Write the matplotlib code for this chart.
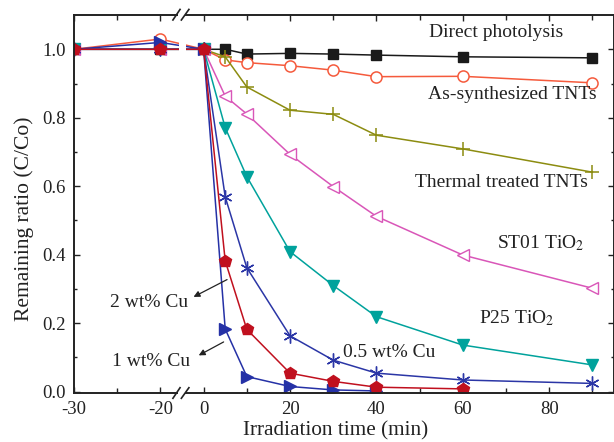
import numpy as np
import matplotlib
matplotlib.use('Agg')
import matplotlib.pyplot as plt
from matplotlib.patches import Rectangle
from matplotlib.lines import Line2D

# temps (min) : -30 et -20 = adsorption dans le noir
t = [-30, -20, 0, 5, 10, 20, 30, 40, 60, 90]
direct = [1.0, 1.0, 1.0, 1.0, 0.986, 0.988, 0.986, 0.983, 0.978, 0.975]
as_syn = [1.0, 1.03, 1.0, 0.969, 0.961, 0.952, 0.939, 0.920, 0.921, 0.902]
thermal = [1.0, 1.0, 1.0, 0.978, 0.890, 0.822, 0.810, 0.749, 0.709, 0.641]
st01 = [1.0, 1.0, 1.0, 0.863, 0.811, 0.693, 0.599, 0.512, 0.399, 0.302]
p25 = [1.0, 1.0, 1.0, 0.771, 0.628, 0.409, 0.310, 0.219, 0.136, 0.078]
cu05 = [1.0, 1.0, 1.0, 0.569, 0.362, 0.163, 0.092, 0.054, 0.034, 0.024]
t_cu2 = [-30, -20, 0, 5, 10, 20, 30, 40, 60]
cu2 = [1.0, 1.0, 1.0, 0.382, 0.182, 0.054, 0.030, 0.013, 0.008]
t_cu1 = [-30, -20, 0, 5, 10, 20, 30, 40]
cu1 = [1.0, 1.02, 1.0, 0.183, 0.044, 0.015, 0.005, 0.002]

major_x = [-30, -20, 0, 20, 40, 60, 80]
minor_x = [-25, 10, 30, 50, 70, 90]


# axe x coupé : la partie -30..-20 est dilatée, -20..0 est comprimée
def fwd(x):
    x = np.asarray(x, dtype=float)
    return np.where(x >= 0, x, np.where(x >= -20, x / 2, 2 * (x + 20) - 10))


def inv(p):
    p = np.asarray(p, dtype=float)
    return np.where(p >= 0, p, np.where(p >= -10, 2 * p, (p + 10) / 2 - 20))


plt.rcParams['font.family'] = ['Liberation Serif', 'DejaVu Serif']
plt.rcParams['mathtext.fontset'] = 'stix'

fig = plt.figure(figsize=(6.14, 4.42), dpi=100)
ax = fig.add_axes([74 / 614, 1 - 393 / 442, 1 - 74 / 614, (393 - 14.7) / 442])
ax.set_xscale('function', functions=(fwd, inv))

lw = 1.1
ax.plot(t, direct, color='#1a1a1a', marker='s', ms=7.5, lw=lw)
ax.plot(t, as_syn, color='#f55a3c', marker='o', ms=8, mfc='white', mew=1.1, lw=lw)
ax.plot(t, thermal, color='#8c8c10', marker='+', ms=10, mew=1.1, lw=lw)
ax.plot(t, st01, color='#d956b8', marker='<', ms=9, mfc='white', mew=1.0, lw=lw)
ax.plot(t, p25, color='#00a29c', marker='v', ms=9, lw=lw)
ax.plot(t, cu05, color='#2b36a6', marker=(6, 2, 0), ms=10, mew=1.0, lw=lw)
ax.plot(t_cu1, cu1, color='#2531a6', marker='>', ms=9, lw=lw)
ax.plot(t_cu2, cu2, color='#c0101e', marker='p', ms=9, lw=lw)

ax.set_xlim(-30, 95)
ax.set_ylim(-0.004, 1.101)
ax.set_xticks(major_x)
ax.set_xticklabels([str(v) for v in major_x])
ax.set_xticks(minor_x, minor=True)
ax.set_yticks([0.0, 0.2, 0.4, 0.6, 0.8, 1.0])
ax.set_yticklabels(['0.0', '0.2', '0.4', '0.6', '0.8', '1.0'])
ax.set_yticks([0.1, 0.3, 0.5, 0.7, 0.9], minor=True)
ax.tick_params(which='both', direction='in', top=True, right=True,
               labelsize=13.5, width=1.0, colors='#222222')
ax.tick_params(which='major', length=4, pad=6)
ax.tick_params(which='minor', length=3.5)
ax.tick_params(axis='y', which='minor', length=2.5)
for s in ax.spines.values():
    s.set_linewidth(1.4)
    s.set_color('#222222')

ax.set_xlabel('Irradiation time (min)', fontsize=15.3, labelpad=2,
              color='#222222', x=0.484)
ax.set_ylabel('Remaining ratio (C/Co)', fontsize=15.5, labelpad=6,
              color='#222222', y=0.46)

# coupure de l'axe
ax.add_patch(Rectangle((-11.6, 0.95), 3.3, 0.12, facecolor='white',
                       edgecolor='none', zorder=5))
tr = ax.get_xaxis_transform()
for yb in (0, 1):
    ax.add_patch(Rectangle((-12.0, yb - 0.01), 3.6, 0.02, transform=tr,
                           facecolor='white', edgecolor='none',
                           clip_on=False, zorder=10))
    for x0, x1 in ((-14.2, -10.9), (-10.3, -6.8)):
        ax.add_line(Line2D([x0, x1], [yb - 0.014, yb + 0.014], transform=tr,
                           color='#222222', lw=1.2, clip_on=False, zorder=11))

fs = 14
tc = '#222222'
ax.text(67.7, 1.05, 'Direct photolysis', fontsize=fs, color=tc, ha='center', va='center')
ax.text(71.4, 0.869, 'As-synthesized TNTs', fontsize=fs, color=tc, ha='center', va='center')
ax.text(69, 0.612, 'Thermal treated TNTs', fontsize=fs, color=tc, ha='center', va='center')
ax.text(78, 0.435, 'ST01 TiO$_2$', fontsize=fs, color=tc, ha='center', va='center')
ax.text(72.5, 0.215, 'P25 TiO$_2$', fontsize=fs, color=tc, ha='center', va='center')
ax.text(43, 0.113, '0.5 wt% Cu', fontsize=fs, color=tc, ha='center', va='center')
ax.text(-21.35, 0.259, '2 wt% Cu', fontsize=fs, color=tc, ha='center', va='center', zorder=12)
ax.text(-21.05, 0.088, '1 wt% Cu', fontsize=fs, color=tc, ha='center', va='center', zorder=12)

arrow = dict(arrowstyle='-|>', color='#222222', lw=0.9, mutation_scale=9)
ax.annotate('', xy=(-5.8, 0.273), xytext=(6.0, 0.331), arrowprops=arrow)
ax.annotate('', xy=(-3.4, 0.102), xytext=(5.2, 0.149), arrowprops=arrow)

plt.savefig('out.png', dpi=100)
